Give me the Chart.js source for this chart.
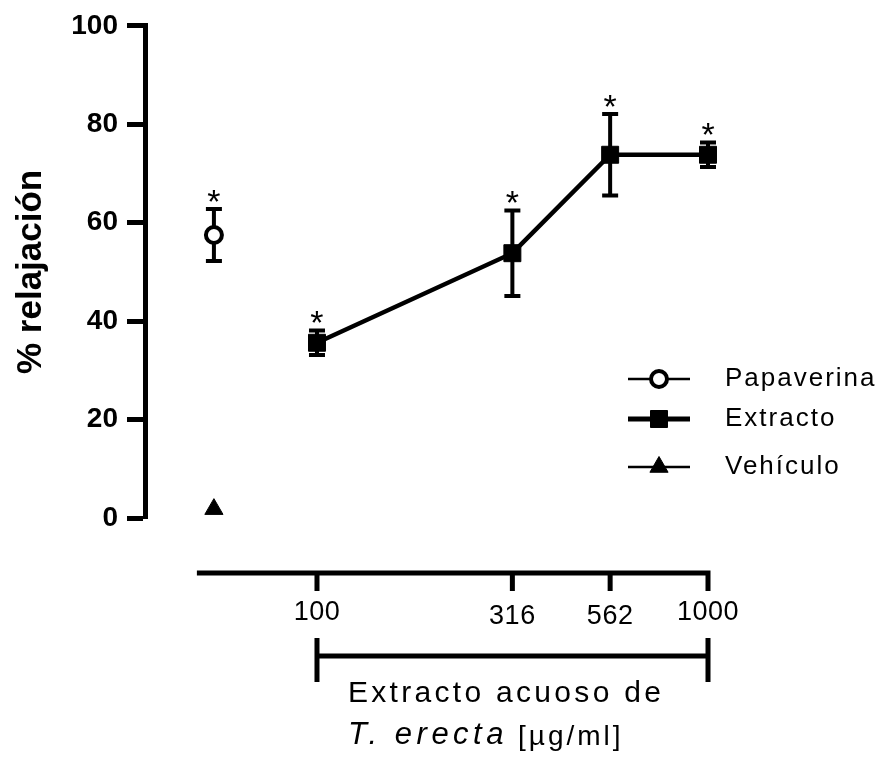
<!DOCTYPE html>
<html>
<head>
<meta charset="utf-8">
<script src="https://cdn.jsdelivr.net/npm/chart.js@4.4.1/dist/chart.umd.min.js"></script>
<style>
  html, body { margin: 0; padding: 0; background: #fff; }
  #wrap { width: 877px; height: 757px; }
</style>
</head>
<body>
<div id="wrap"><canvas id="chart"></canvas></div>
<script>
// Extracto acuoso de T. erecta, dose in ug/ml
const doses = [100, 316, 562, 1000];
const extractoMean = [35.6, 53.8, 73.8, 73.8];
const extractoSem = [2.5, 8.7, 8.3, 2.5];
const extractoStar = [true, true, true, true];

// controls sit left of the dose range, at one shared x
const controlDose = [54.5];
const papaverinaMean = [57.5];
const papaverinaSem = [5.3];
const papaverinaStar = [true];
const vehiculoMean = [1.8];
const vehiculoSem = [0];
const vehiculoStar = [false];

const yTicks = [0, 20, 40, 60, 80, 100];
const xTicks = [100, 316, 562, 1000];
const xAxisStart = 49.3;

const FONT = "'Liberation Sans', Arial, sans-serif";

function toPoints(xs, ys) {
    return ys.map((y, i) => ({ x: xs[i], y: y }));
}

/**
 * Error bars (mean +/- SEM) and significance asterisks
 */
const errorBars = {
    id: 'errorBars',
    beforeDatasetsDraw(chart) {
        const ctx = chart.ctx;
        const yScale = chart.scales.y;
        ctx.save();
        ctx.strokeStyle = '#000';
        ctx.lineWidth = 4;
        chart.data.datasets.forEach((ds, di) => {
            const meta = chart.getDatasetMeta(di);
            meta.data.forEach((pt, i) => {
                const sem = ds.sem[i];
                if (!sem) return;
                const top = yScale.getPixelForValue(ds.data[i].y + sem);
                const bot = yScale.getPixelForValue(ds.data[i].y - sem);
                ctx.beginPath();
                ctx.moveTo(pt.x, top);
                ctx.lineTo(pt.x, bot);
                ctx.moveTo(pt.x - 8, top);
                ctx.lineTo(pt.x + 8, top);
                ctx.moveTo(pt.x - 8, bot);
                ctx.lineTo(pt.x + 8, bot);
                ctx.stroke();
            });
        });
        ctx.restore();
    },
    afterDatasetsDraw(chart) {
        const ctx = chart.ctx;
        const yScale = chart.scales.y;
        ctx.save();
        ctx.fillStyle = '#000';
        ctx.font = '34px ' + FONT;
        ctx.textAlign = 'center';
        ctx.textBaseline = 'alphabetic';
        chart.data.datasets.forEach((ds, di) => {
            const meta = chart.getDatasetMeta(di);
            meta.data.forEach((pt, i) => {
                if (!ds.star[i]) return;
                const top = yScale.getPixelForValue(ds.data[i].y + ds.sem[i]);
                ctx.fillText('*', pt.x, top + 4);
            });
        });
        ctx.restore();
    }
};

/**
 * Detached x axis, dose bracket and axis title below the plot
 */
const doseAxis = {
    id: 'doseAxis',
    afterDraw(chart) {
        const ctx = chart.ctx;
        const x = chart.scales.x;
        const axisY = 573;
        const left = x.getPixelForValue(xAxisStart);
        const right = x.getPixelForValue(xTicks[xTicks.length - 1]);
        ctx.save();
        ctx.strokeStyle = '#000';
        ctx.fillStyle = '#000';
        ctx.lineWidth = 5;
        ctx.beginPath();
        ctx.moveTo(left, axisY);
        ctx.lineTo(right + 2.5, axisY);
        xTicks.forEach(v => {
            const px = x.getPixelForValue(v);
            ctx.moveTo(px, axisY);
            ctx.lineTo(px, axisY + 18);
        });
        ctx.stroke();

        // the middle two labels sit a little lower in the original
        const labelY = [612.5, 617, 617, 612.5];
        ctx.font = '27px ' + FONT;
        ctx.letterSpacing = '0.5px';
        ctx.textAlign = 'center';
        ctx.textBaseline = 'middle';
        xTicks.forEach((v, i) => {
            ctx.fillText(String(v), x.getPixelForValue(v), labelY[i]);
        });

        // bracket over the extract doses
        const b0 = x.getPixelForValue(doses[0]);
        const b1 = x.getPixelForValue(doses[doses.length - 1]);
        ctx.beginPath();
        ctx.moveTo(b0, 656);
        ctx.lineTo(b1, 656);
        ctx.moveTo(b0, 638);
        ctx.lineTo(b0, 682);
        ctx.moveTo(b1, 638);
        ctx.lineTo(b1, 682);
        ctx.stroke();

        ctx.textAlign = 'left';
        ctx.letterSpacing = '3.3px';
        ctx.font = '30px ' + FONT;
        ctx.fillText('Extracto acuoso de', 348, 694);
        ctx.font = 'italic 31px ' + FONT;
        ctx.letterSpacing = '4.5px';
        ctx.fillText('T. erecta', 348, 735);
        const w = ctx.measureText('T. erecta').width;
        ctx.font = '28px ' + FONT;
        ctx.letterSpacing = '3px';
        ctx.fillText('[\u00b5g/ml]', 348 + w + 10, 737);
        ctx.restore();
    }
};

/**
 * Legend drawn inside the plot, right side
 */
const sideLegend = {
    id: 'sideLegend',
    afterDraw(chart) {
        const ctx = chart.ctx;
        const rows = [379, 419, 467];
        ctx.save();
        chart.data.datasets.forEach((ds, i) => {
            const y = rows[i];
            ctx.strokeStyle = '#000';
            ctx.lineWidth = ds.legendLine;
            ctx.beginPath();
            ctx.moveTo(628, y);
            ctx.lineTo(690, y);
            ctx.stroke();
            ctx.fillStyle = ds.pointBackgroundColor;
            ctx.strokeStyle = '#000';
            ctx.lineWidth = ds.pointBorderWidth;
            Chart.helpers.drawPoint(ctx, {
                pointStyle: ds.pointStyle,
                radius: ds.pointRadius,
                borderWidth: ds.pointBorderWidth,
                rotation: 0
            }, 659, y);
            ctx.fillStyle = '#000';
            ctx.font = '26px ' + FONT;
            ctx.letterSpacing = '2px';
            ctx.textAlign = 'left';
            ctx.textBaseline = 'middle';
            ctx.fillText(ds.label, 725, y);
        });
        ctx.restore();
    }
};

new Chart(document.getElementById('chart'), {
    type: 'scatter',
    data: {
        datasets: [
            {
                label: 'Papaverina',
                data: toPoints(controlDose, papaverinaMean),
                sem: papaverinaSem,
                star: papaverinaStar,
                pointStyle: 'circle',
                pointRadius: 8,
                pointBorderWidth: 4,
                pointBackgroundColor: '#fff',
                pointBorderColor: '#000',
                legendLine: 2.5,
                showLine: false
            },
            {
                label: 'Extracto',
                data: toPoints(doses, extractoMean),
                sem: extractoSem,
                star: extractoStar,
                pointStyle: 'rect',
                pointRadius: 12,
                pointBorderWidth: 1,
                pointBackgroundColor: '#000',
                pointBorderColor: '#000',
                borderColor: '#000',
                borderWidth: 4.5,
                legendLine: 5,
                showLine: true
            },
            {
                label: 'Vehículo',
                data: toPoints(controlDose, vehiculoMean),
                sem: vehiculoSem,
                star: vehiculoStar,
                pointStyle: 'triangle',
                pointRadius: 10.5,
                pointBorderWidth: 1,
                pointBackgroundColor: '#000',
                pointBorderColor: '#000',
                legendLine: 2.5,
                showLine: false
            }
        ]
    },
    options: {
        responsive: true,
        maintainAspectRatio: false,
        animation: false,
        clip: false,
        layout: {
            padding: { top: 25, bottom: 239, left: 0, right: 169 }
        },
        plugins: {
            legend: { display: false },
            tooltip: { enabled: false }
        },
        scales: {
            x: {
                type: 'logarithmic',
                display: false,
                min: 36.32,
                max: 1000
            },
            y: {
                min: 0,
                max: 100,
                afterFit: s => { s.width = 145; },
                afterBuildTicks: s => { s.ticks = yTicks.map(v => ({ value: v })); },
                border: { display: true, color: '#000', width: 5 },
                grid: {
                    drawOnChartArea: false,
                    drawTicks: true,
                    tickLength: 18,
                    tickWidth: 5,
                    tickColor: '#000',
                    color: '#000'
                },
                ticks: {
                    color: '#000',
                    padding: 9,
                    font: { family: FONT, size: 28, weight: 'bold' }
                },
                title: {
                    display: true,
                    text: '% relajación',
                    color: '#000',
                    padding: { top: 10, bottom: 0 },
                    font: { family: FONT, size: 35, weight: 'bold' }
                }
            }
        }
    },
    plugins: [errorBars, doseAxis, sideLegend]
});
</script>
</body>
</html>
